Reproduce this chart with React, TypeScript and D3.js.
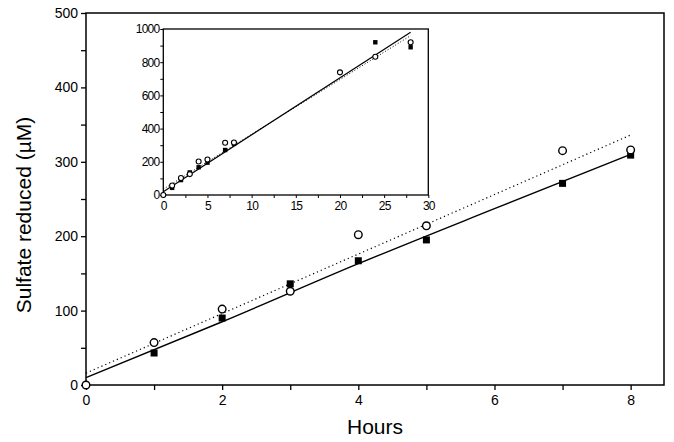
import React, { useEffect, useRef } from "react";
import * as d3 from "d3";

// main panel: hours 0-8
const hours = [0, 1, 2, 3, 4, 5, 7, 8];
const openValues = [0, 57, 102, 126, 202, 214, 315, 316];
const filledHours = [1, 2, 3, 4, 5, 7, 8];
const filledValues = [43, 90, 136, 167, 195, 271, 309];

// fitted lines
const solidFitX = [0, 2, 4, 6, 8];
const solidFitY = [10, 85, 163, 237, 310];
const dottedFitX = [0, 8];
const dottedFitY = [16, 336];

// inset: extra later samples
const insetOpenHours = [20, 24, 28];
const insetOpenValues = [739, 833, 920];
const insetFilledHours = [24, 28];
const insetFilledValues = [920, 890];
const insetSolidX = [0, 28];
const insetSolidY = [20, 980];
const insetDottedX = [0, 28];
const insetDottedY = [35, 960];

const mainXTicks = [0, 2, 4, 6, 8];
const mainYTicks = [0, 100, 200, 300, 400, 500];
const insetXTicks = [0, 5, 10, 15, 20, 25, 30];
const insetYTicks = [0, 200, 400, 600, 800, 1000];

const FONT = "'Liberation Sans', Arial, sans-serif";

const App = () => {
  const ref = useRef<HTMLDivElement>(null);

  useEffect(() => {
    const width = 674;
    const height = 442;

    d3.select(ref.current).selectAll("*").remove();
    const svg = d3
      .select(ref.current)
      .append("svg")
      .attr("width", width)
      .attr("height", height)
      .style("position", "absolute")
      .style("left", 0)
      .style("top", 0)
      .style("background", "#fff");

    // ---------- main panel ----------
    const x = d3.scaleLinear().domain([0, 8.49]).range([86, 664]);
    const y = d3.scaleLinear().domain([0, 500]).range([385, 13]);

    const frame = svg.append("g");
    frame
      .append("rect")
      .attr("x", x(0))
      .attr("y", y(500))
      .attr("width", x(8.49) - x(0))
      .attr("height", y(0) - y(500))
      .attr("fill", "none")
      .attr("stroke", "#000")
      .attr("stroke-width", 1.5);

    const xAxis = svg
      .append("g")
      .attr("transform", `translate(0,${y(0)})`)
      .call(
        d3
          .axisBottom(x)
          .tickValues(d3.range(0, 9))
          .tickSize(5)
          .tickFormat((d) => (mainXTicks.includes(+d) ? String(d) : ""))
      );
    xAxis.select(".domain").remove();
    xAxis.selectAll("line").attr("stroke-width", 1.3);
    xAxis
      .selectAll("text")
      .attr("font-family", FONT)
      .attr("font-size", 14)
      .attr("dy", "0.85em")
      .attr("fill", "#000");

    const yAxis = svg
      .append("g")
      .attr("transform", `translate(${x(0)},0)`)
      .call(
        d3
          .axisLeft(y)
          .tickValues(d3.range(0, 501, 50))
          .tickSize(5)
          .tickFormat((d) => (mainYTicks.includes(+d) ? String(d) : ""))
      );
    yAxis.select(".domain").remove();
    yAxis.selectAll("line").attr("stroke-width", 1.3);
    yAxis
      .selectAll("text")
      .attr("font-family", FONT)
      .attr("font-size", 14)
      .attr("x", -8)
      .attr("fill", "#000");

    svg
      .append("text")
      .attr("x", 375)
      .attr("y", 434)
      .attr("text-anchor", "middle")
      .attr("font-family", FONT)
      .attr("font-size", 21)
      .text("Hours");

    svg
      .append("text")
      .attr("transform", "translate(31,215) rotate(-90)")
      .attr("text-anchor", "middle")
      .attr("font-family", FONT)
      .attr("font-size", 21)
      .text("Sulfate reduced (µM)");

    const line = d3.line<[number, number]>().curve(d3.curveMonotoneX);

    svg
      .append("path")
      .datum(solidFitX.map((d, i) => [x(d), y(solidFitY[i])] as [number, number]))
      .attr("fill", "none")
      .attr("stroke", "#000")
      .attr("stroke-width", 1.4)
      .attr("d", line);

    svg
      .append("path")
      .datum(dottedFitX.map((d, i) => [x(d), y(dottedFitY[i])] as [number, number]))
      .attr("fill", "none")
      .attr("stroke", "#000")
      .attr("stroke-width", 1.2)
      .attr("stroke-dasharray", "1.2,3")
      .attr("d", line);

    svg
      .append("g")
      .selectAll("rect")
      .data(filledHours)
      .join("rect")
      .attr("x", (d) => x(d) - 3.5)
      .attr("y", (d, i) => y(filledValues[i]) - 3.5)
      .attr("width", 7)
      .attr("height", 7)
      .attr("fill", "#000");

    svg
      .append("g")
      .selectAll("circle")
      .data(hours)
      .join("circle")
      .attr("cx", (d) => x(d))
      .attr("cy", (d, i) => y(openValues[i]))
      .attr("r", 3.8)
      .attr("fill", "#fff")
      .attr("stroke", "#000")
      .attr("stroke-width", 1.4);

    // ---------- inset ----------
    const ix = d3.scaleLinear().domain([0, 30]).range([163.3, 428.3]);
    const iy = d3.scaleLinear().domain([0, 1000]).range([195, 29]);
    const inset = svg.append("g");

    inset
      .append("rect")
      .attr("x", ix(0))
      .attr("y", iy(1000))
      .attr("width", ix(30) - ix(0))
      .attr("height", iy(0) - iy(1000))
      .attr("fill", "#fff")
      .attr("stroke", "#000")
      .attr("stroke-width", 1.3);

    const ixAxis = inset
      .append("g")
      .attr("transform", `translate(0,${iy(0)})`)
      .call(
        d3
          .axisBottom(ix)
          .tickValues(d3.range(0, 30.1, 2.5))
          .tickSize(3)
          .tickFormat((d) => (insetXTicks.includes(+d) ? String(d) : ""))
      );
    ixAxis.select(".domain").remove();
    ixAxis
      .selectAll("text")
      .attr("font-family", FONT)
      .attr("font-size", 12)
      .attr("letter-spacing", -0.8)
      .attr("dy", "0.75em")
      .attr("fill", "#000");

    const iyAxis = inset
      .append("g")
      .attr("transform", `translate(${ix(0)},0)`)
      .call(
        d3
          .axisLeft(iy)
          .tickValues(d3.range(0, 1001, 100))
          .tickSize(3)
          .tickFormat((d) => (insetYTicks.includes(+d) ? String(d) : ""))
      );
    iyAxis.select(".domain").remove();
    iyAxis
      .selectAll("text")
      .attr("font-family", FONT)
      .attr("font-size", 12)
      .attr("letter-spacing", -0.8)
      .attr("x", -4)
      .attr("fill", "#000");

    inset
      .append("path")
      .datum(insetSolidX.map((d, i) => [ix(d), iy(insetSolidY[i])] as [number, number]))
      .attr("fill", "none")
      .attr("stroke", "#000")
      .attr("stroke-width", 1.2)
      .attr("d", line);

    inset
      .append("path")
      .datum(insetDottedX.map((d, i) => [ix(d), iy(insetDottedY[i])] as [number, number]))
      .attr("fill", "none")
      .attr("stroke", "#000")
      .attr("stroke-width", 1)
      .attr("stroke-dasharray", "1,2")
      .attr("d", line);

    const iFilledX = filledHours.concat(insetFilledHours);
    const iFilledY = filledValues.concat(insetFilledValues);
    inset
      .append("g")
      .selectAll("rect")
      .data(iFilledX)
      .join("rect")
      .attr("x", (d) => ix(d) - 2.2)
      .attr("y", (d, i) => iy(iFilledY[i]) - 2.2)
      .attr("width", 4.4)
      .attr("height", 4.4)
      .attr("fill", "#000");

    const iOpenX = hours.concat(insetOpenHours);
    const iOpenY = openValues.concat(insetOpenValues);
    inset
      .append("g")
      .selectAll("circle")
      .data(iOpenX)
      .join("circle")
      .attr("cx", (d) => ix(d))
      .attr("cy", (d, i) => iy(iOpenY[i]))
      .attr("r", 2.5)
      .attr("fill", "#fff")
      .attr("stroke", "#000")
      .attr("stroke-width", 1.1);
  }, []);

  return <div ref={ref}></div>;
};

export default App;
